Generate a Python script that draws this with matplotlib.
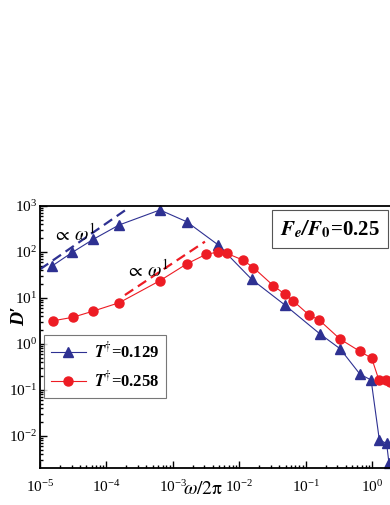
import numpy as np
import matplotlib
matplotlib.use("Agg")
import matplotlib.pyplot as plt
from matplotlib.ticker import LogLocator, NullFormatter

plt.rcParams['font.family'] = ['Liberation Serif', 'DejaVu Serif']
plt.rcParams['mathtext.fontset'] = 'stix'

# data
w_blue = [1.53e-5, 3.06e-5, 6.35e-5, 1.55e-4, 6.4e-4, 1.62e-3, 4.84e-3,
          1.54e-2, 4.9e-2, 0.165, 0.33, 0.66, 0.97, 1.29, 1.66, 1.80]
D_blue = [50, 98, 189, 386, 820, 455, 142,
          25.5, 7.0, 1.65, 0.79, 0.22, 0.165, 0.0082, 0.0069, 0.0026]
w_red = [1.58e-5, 3.1e-5, 6.35e-5, 1.56e-4, 6.4e-4, 1.62e-3, 3.16e-3, 4.84e-3,
         6.45e-3, 1.13e-2, 1.63e-2, 3.27e-2, 4.9e-2, 6.53e-2, 0.112, 0.161,
         0.33, 0.65, 0.99, 1.27, 1.61, 1.85]
D_red = [3.2, 3.8, 5.2, 7.9, 23.8, 55, 89, 100,
         94, 67, 46, 18.5, 12, 8.6, 4.3, 3.3,
         1.28, 0.70, 0.49, 0.165, 0.165, 0.15]

# omega^1 guide lines
guide_blue_x = [1e-5, 1.9e-4]
guide_blue_y = [42, 800]
guide_red_x = [1.9e-4, 3.05e-3]
guide_red_y = [11.6, 168]

labels = [r'$\mathbfit{T}^{\dagger}$=0.129', r'$\mathbfit{T}^{\dagger}$=0.258']

blue = '#2E3192'
red = '#ED1C24'

fig = plt.figure(figsize=(3.9, 5.05), dpi=100)
ax = fig.add_axes([40/390, 1-467.7/505, 398.4/390, (467.7-206)/505])

ax.plot(guide_blue_x, guide_blue_y, color=blue, lw=1.6, dashes=(4.5, 2.5))
ax.plot(guide_red_x, guide_red_y, color=red, lw=1.6, dashes=(4.5, 2.5))
ax.plot(w_blue, D_blue, '-^', color=blue, lw=0.8, ms=7.5, mec=blue, mfc=blue,
        label=labels[0], clip_on=False)
ax.plot(w_red, D_red, '-o', color=red, lw=0.8, ms=6.5, mec=red, mfc=red,
        label=labels[1])

ax.set_xscale('log')
ax.set_yscale('log')
ax.set_xlim(1e-5, 1e1)
ax.set_ylim(10**-2.689, 1e3)

for a in (ax.xaxis, ax.yaxis):
    a.set_major_locator(LogLocator(base=10, numticks=20))
    a.set_minor_locator(LogLocator(base=10, subs=np.arange(2, 10), numticks=20))
    a.set_minor_formatter(NullFormatter())
ax.tick_params(which='both', direction='in', top=False, right=False, width=1.0)
ax.tick_params(which='major', length=5, labelsize=11)
ax.tick_params(which='minor', length=2.5)
ax.tick_params(axis='x', pad=8)
ax.tick_params(axis='y', pad=2)
for s in ax.spines.values():
    s.set_linewidth(1.3)

ax.text(10**-4.80, 180, r'$\propto\,\omega^{\mathrm{1}}$', fontsize=14)
ax.text(10**-3.70, 29, r'$\propto\,\omega^{\mathrm{1}}$', fontsize=14)

fig.text(330/390, 1-229/505, r'$\mathbfit{F}_{\mathbfit{e}}\mathbfit{/F}_{\mathbf{0}}$=0.25',
         fontsize=15, fontweight='bold', ha='center', va='center',
         bbox=dict(boxstyle='square,pad=0.4', fc='white', ec='#555555', lw=0.8))

leg = ax.legend(loc='upper left', bbox_to_anchor=(4/398.4, 1-(335-206)/261.7),
                prop={'size': 12, 'weight': 'bold'}, frameon=True, fancybox=False,
                borderaxespad=0, handlelength=2.1, handletextpad=0.5,
                borderpad=0.4, labelspacing=0.55)
leg.get_frame().set_edgecolor('#555555')
leg.get_frame().set_linewidth(0.8)

fig.text(20/390, 1-316/505, "D\u2032", fontsize=14, fontweight='bold',
         fontstyle='italic', rotation=90, ha='center', va='center')
fig.text(203/390, 1-490/505, r'$\omega/2\mathrm{\pi}$', fontsize=14,
         ha='center', va='center')

fig.savefig('out.png', dpi=100)
